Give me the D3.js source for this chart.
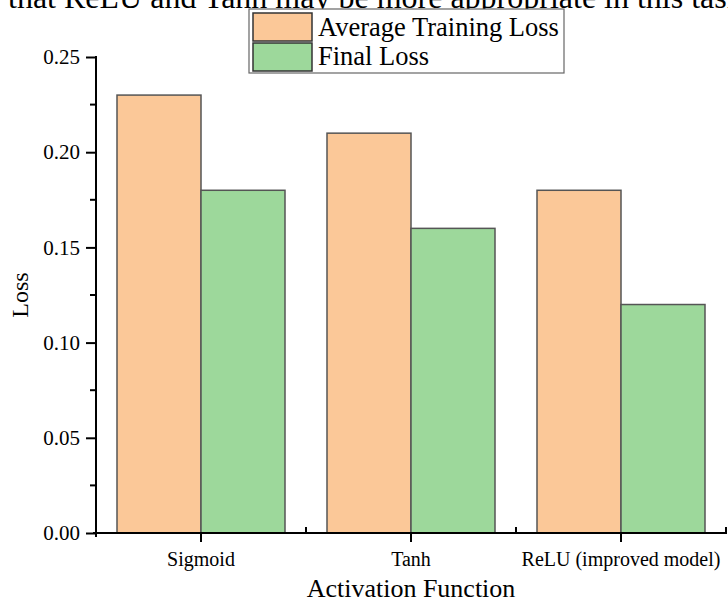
<!DOCTYPE html>
<html>
<head>
<meta charset="utf-8">
<script src="https://cdn.jsdelivr.net/npm/d3@7"></script>
<style>
  html, body { margin: 0; padding: 0; background: #fff; }
  svg { display: block; font-family: "Liberation Serif", "Times New Roman", serif; }
</style>
</head>
<body>
<svg id="chart" width="728" height="608"></svg>
<script>
const categories = ["Sigmoid", "Tanh", "ReLU (improved model)"];
const seriesNames = ["Average Training Loss", "Final Loss"];
const avgTrainingLoss = [0.23, 0.21, 0.18];
const finalLoss = [0.18, 0.16, 0.12];
const seriesColors = ["#fbc898", "#9dd89b"];
const yTicks = [0.00, 0.05, 0.10, 0.15, 0.20, 0.25];
const titleText = "that ReLU and Tanh may be more appropriate in this task";

(function () {
const series = [avgTrainingLoss, finalLoss];
const svg = d3.select("#chart");
const mLeft = 96, mRight = 726, mTop = 57, mBottom = 533;

const x = d3.scaleBand().domain(categories).range([mLeft, mRight]).paddingInner(0.2).paddingOuter(0.1);
const xFull = d3.scaleBand().domain(categories).range([mLeft, mRight]);
const xs = d3.scaleBand().domain(seriesNames).range([0, x.bandwidth()]);
const y = d3.scaleLinear().domain([0, 0.25]).range([mBottom, mTop]);

// title, partly cut off at the top edge as in the reference
svg.append("text").attr("x", 8).attr("y", 8)
  .attr("font-size", 32).attr("fill", "#000").text(titleText);

// bars
categories.forEach((c, i) => {
  series.forEach((s, j) => {
    svg.append("rect")
      .attr("x", x(c) + xs(seriesNames[j]))
      .attr("y", y(s[i]))
      .attr("width", xs.bandwidth())
      .attr("height", y(0) - y(s[i]))
      .attr("fill", seriesColors[j])
      .attr("stroke", "#555")
      .attr("stroke-width", 1.5);
  });
});

// y axis
const yAxis = d3.axisLeft(y).tickValues(yTicks).tickFormat(d3.format(".2f")).tickSize(10).tickPadding(6);
const gy = svg.append("g").attr("transform", `translate(${mLeft},0)`).call(yAxis);
gy.select(".domain").remove();
gy.selectAll(".tick line").attr("stroke", "#000").attr("stroke-width", 2);
gy.selectAll(".tick text").attr("font-size", 21).attr("font-family", "Liberation Serif").attr("fill", "#000");
const minorY = [0.025, 0.075, 0.125, 0.175, 0.225];
svg.append("g").selectAll("line").data(minorY).join("line")
  .attr("x1", mLeft - 6).attr("x2", mLeft).attr("y1", d => y(d)).attr("y2", d => y(d))
  .attr("stroke", "#000").attr("stroke-width", 2);
svg.append("line").attr("x1", mLeft).attr("x2", mLeft).attr("y1", mTop - 1).attr("y2", mBottom + 4)
  .attr("stroke", "#000").attr("stroke-width", 2);

// x axis
const xAxis = d3.axisBottom(xFull).tickSize(9).tickPadding(10);
const gx = svg.append("g").attr("transform", `translate(0,${mBottom})`).call(xAxis);
gx.select(".domain").remove();
gx.selectAll(".tick line").attr("stroke", "#000").attr("stroke-width", 2);
gx.selectAll(".tick text").attr("font-size", 20).attr("font-family", "Liberation Serif").attr("fill", "#000");
svg.append("line").attr("x1", mLeft - 3).attr("x2", mRight + 1).attr("y1", mBottom).attr("y2", mBottom)
  .attr("stroke", "#000").attr("stroke-width", 2);
svg.append("g").selectAll("line").data(categories).join("line")
  .attr("x1", d => xFull(d) + xFull.bandwidth()).attr("x2", d => xFull(d) + xFull.bandwidth())
  .attr("y1", mBottom).attr("y2", mBottom - 6)
  .attr("stroke", "#000").attr("stroke-width", 2);

// axis titles
svg.append("text").attr("x", (mLeft + mRight) / 2).attr("y", 597).attr("text-anchor", "middle")
  .attr("font-size", 26).text("Activation Function");
svg.append("text").attr("transform", `translate(28,${(mTop + mBottom) / 2}) rotate(-90)`)
  .attr("text-anchor", "middle").attr("font-size", 24).text("Loss");

// legend
const lg = svg.append("g");
lg.append("rect").attr("x", 249).attr("y", 9).attr("width", 315).attr("height", 64)
  .attr("fill", "#fff").attr("stroke", "#666").attr("stroke-width", 1.2);
seriesNames.forEach((n, j) => {
  lg.append("rect").attr("x", 253).attr("y", 13 + j * 30).attr("width", 59).attr("height", 28)
    .attr("fill", seriesColors[j]).attr("stroke", "#333").attr("stroke-width", 1.5);
  lg.append("text").attr("x", 318).attr("y", 36 + j * 29).attr("font-size", 26.5).text(n);
});
})();
</script>
</body>
</html>
